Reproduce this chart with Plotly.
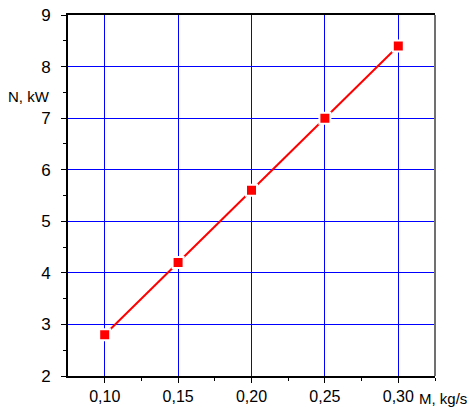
import plotly.graph_objects as go

mass_flow = [0.10, 0.15, 0.20, 0.25, 0.30]
power_kw = [2.8, 4.2, 5.6, 7.0, 8.4]
x_ticks = [0.10, 0.15, 0.20, 0.25, 0.30]
x_minor = [0.125, 0.175, 0.225, 0.275, 0.325]
y_ticks = [2, 3, 4, 5, 6, 7, 8, 9]
y_minor = [2.5, 3.5, 4.5, 5.5, 6.5, 7.5, 8.5]
x_label = "M, kg/s"
y_label = "N, kW"

FONT = "Liberation Sans, Arial, sans-serif"

fig = go.Figure()
fig.add_trace(go.Scatter(
    x=mass_flow, y=power_kw, mode="lines+markers",
    line=dict(color="#ff0000", width=2),
    marker=dict(symbol="square", size=11, color="#ff0000",
                line=dict(color="white", width=2)),
    showlegend=False, cliponaxis=False,
))

fig.update_layout(
    width=470, height=408,
    margin=dict(l=68, r=35, t=15, b=32),
    paper_bgcolor="white", plot_bgcolor="white",
    separators=", ",
    font=dict(family=FONT, size=16, color="black"),
    xaxis=dict(
        range=[0.075, 0.325], tickvals=x_ticks, automargin=False,
        tickformat=".2f", showgrid=True, gridcolor="#0000ff", gridwidth=1,
        zeroline=False, showline=True, linecolor="black", linewidth=2,
        mirror=True, ticks="outside", ticklen=5, tickcolor="black", tickwidth=1,
        minor=dict(tickvals=x_minor, ticks="outside",
                   ticklen=3, tickcolor="black", showgrid=False),
    ),
    yaxis=dict(
        range=[2, 9], tickvals=y_ticks, automargin=False,
        showgrid=True, gridcolor="#0000ff", gridwidth=1,
        zeroline=False, showline=True, linecolor="black", linewidth=2,
        ticks="outside", ticklen=5, tickcolor="black", tickwidth=1,
        tickfont=dict(size=17),
        minor=dict(tickvals=y_minor, ticks="outside",
                   ticklen=3, tickcolor="black", showgrid=False),
        ticklabelstandoff=7,
    ),
    shapes=[dict(type="line", xref="paper", yref="paper", x0=1, x1=1, y0=0, y1=1,
                 line=dict(color="#707070", width=2))],
    annotations=[
        dict(text=y_label, xref="paper", yref="paper", x=-0.0436, y=0.7756,
             xanchor="right", yanchor="middle", showarrow=False,
             font=dict(family=FONT, size=15)),
        dict(text=x_label, xref="paper", yref="paper", x=1.0926, y=-0.061,
             xanchor="right", yanchor="middle", showarrow=False,
             font=dict(family=FONT, size=15)),
    ],
)

fig.write_html("out.html", config={"displayModeBar": False},
               post_script="document.body.style.margin='0';")
